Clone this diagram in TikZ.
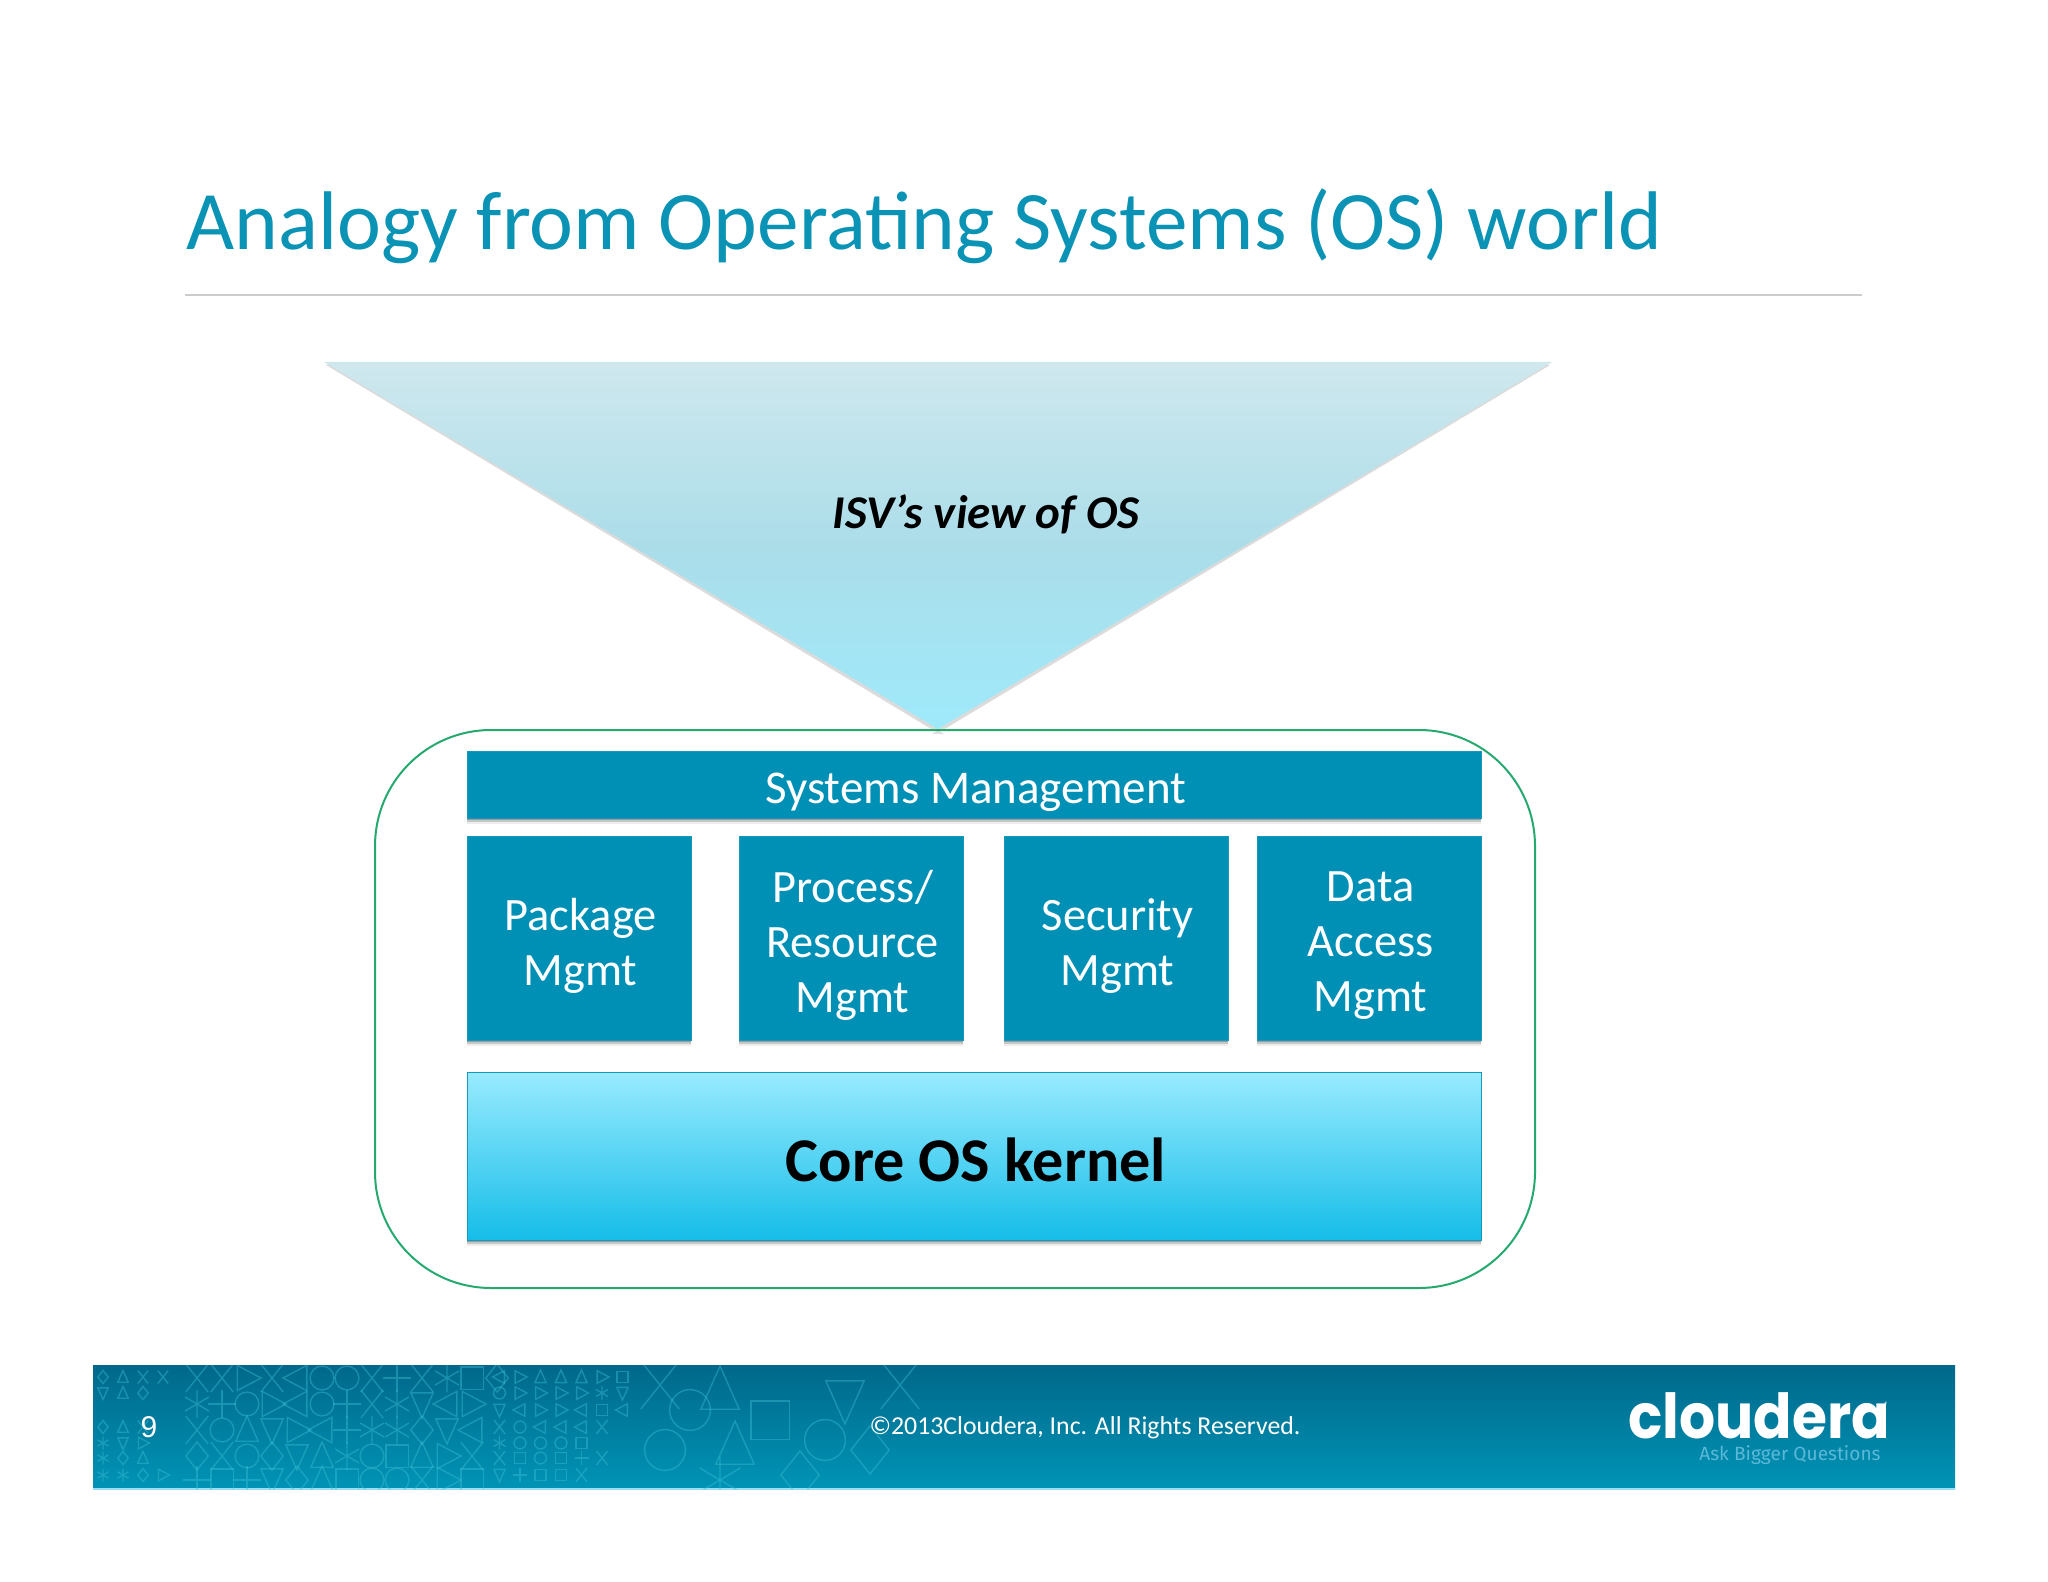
\documentclass[tikz,border=0pt]{standalone}
\usepackage{fontspec}
\setmainfont{Carlito}
\newfontfamily\logofont{Poppins}[FakeStretch=.915]
\newfontfamily\tagfont{Fira Sans}
\newfontfamily\arialfont{Liberation Sans}
\usetikzlibrary{shadows}
\definecolor{titleblue}{HTML}{0A93B5}
\definecolor{boxblue}{HTML}{0090B5}
\definecolor{boxedge}{HTML}{1598BA}
\definecolor{ringgreen}{HTML}{25A96F}
\definecolor{footdark}{HTML}{00688A}
\definecolor{footlight}{HTML}{0094B6}
\definecolor{glyphcol}{HTML}{3CC0D6}
\definecolor{funtop}{HTML}{CFE8EE}
\definecolor{funmid}{HTML}{ABDDE9}
\definecolor{funbot}{HTML}{9EEAFB}
\definecolor{coretop}{HTML}{99EBFF}
\definecolor{corebot}{HTML}{15BDE8}
\definecolor{tagcol}{HTML}{5CB8D8}
\tikzset{
  softshadow/.style={
    general shadow={shadow xshift=0pt,shadow yshift=-1pt,fill=black,opacity=.22},
    general shadow={shadow xshift=0pt,shadow yshift=-2.2pt,fill=black,opacity=.16},
    general shadow={shadow xshift=0pt,shadow yshift=-3.2pt,fill=black,opacity=.07}},
  boxtext/.style={text=white,align=center,inner sep=0pt,xshift=.8pt,yshift=-3.8pt,
    font=\fontsize{23.2}{27.5}\selectfont},
  bluebox/.style={draw=boxedge,line width=.5pt,fill=boxblue,inner sep=0pt,outer sep=0pt,softshadow},
  module/.style={bluebox,minimum width=112pt,minimum height=102pt},
  pics/gtri/.style={code={\draw (0,-1)--(-.8,.8)--(.8,.8)--cycle;}},
  pics/gtrid/.style={code={\draw (0,1)--(-.8,-.8)--(.8,-.8)--cycle;}},
  pics/gtrir/.style={code={\draw (1,0)--(-.7,-.9)--(-.7,.9)--cycle;}},
  pics/gtril/.style={code={\draw (-1,0)--(.7,-.9)--(.7,.9)--cycle;}},
  pics/gcirc/.style={code={\draw (0,0) circle (.85);}},
  pics/gsq/.style={code={\draw (-.8,-.8) rectangle (.8,.8);}},
  pics/gdiam/.style={code={\draw (0,-1)--(.8,0)--(0,1)--(-.8,0)--cycle;}},
  pics/gplus/.style={code={\draw (0,-1)--(0,1) (-1,0)--(1,0);}},
  pics/gx/.style={code={\draw (-.8,-1)--(.8,1) (-.8,1)--(.8,-1);}},
  pics/gstar/.style={code={\draw (0,-1)--(0,1) (-.85,-.5)--(.85,.5) (-.85,.5)--(.85,-.5);}},
  gl/.style={draw=glyphcol,line width=.7pt,draw opacity=.42}
}
\begin{document}
\begin{tikzpicture}[x=.5pt,y=-.5pt]
\useasboundingbox (0,0) rectangle (2048,1582);
\fill[white] (0,0) rectangle (2048,1582);

% title
\node[anchor=base west,inner sep=0pt,text=titleblue,font=\fontsize{41.6}{48}\selectfont] (title) at (186,250) {Analogy from Operating Systems (OS) world};
\coordinate (ruleL) at (185,295);
\coordinate (ruleR) at (1862,295);
\draw[black!20,line width=.6pt] (ruleL) -- (ruleR);

% funnel
\fill[black,opacity=.14] (326,365) -- (1550,365) -- (938,733) -- cycle;
\shade[top color=funtop,bottom color=funbot,middle color=funmid] (324,362) -- (1552,362) -- (938,729) -- cycle;
\node[font=\fontsize{23.5}{28}\bfseries\itshape\selectfont,text=black] (isv) at (986,514) {ISV’s view of OS};

% outer frame
\draw[ringgreen,line width=1pt,rounded corners=58pt,fill=white] (375,730) rectangle (1535,1288);
\fill[black,opacity=.12] (938,730) -- (932,734) -- (944,734) -- cycle;

% boxes
\node[bluebox,minimum width=507pt,minimum height=33.5pt,label={[boxtext,font=\fontsize{23.5}{28}\selectfont]center:Systems Management}] (sysm) at (974,784.5) {};
\node[module,label={[boxtext]center:Package\\Mgmt}] (pkg) at (579,938) {};
\node[module,label={[boxtext]center:Process/\\Resource\\Mgmt}] (proc) at (851,938) {};
\node[module,label={[boxtext]center:Security\\Mgmt}] (sec) at (1116,938) {};
\node[module,label={[boxtext]center:Data\\Access\\Mgmt}] (data) at (1369,938) {};
\node[draw=boxedge,line width=.5pt,top color=coretop,bottom color=corebot,minimum width=507pt,minimum height=84pt,inner sep=0pt,outer sep=0pt,softshadow,label={[text=black,inner sep=0pt,xshift=1pt,yshift=-2pt,font=\fontsize{31.1}{36}\bfseries\selectfont]center:Core OS kernel}] (core) at (974,1156) {};

% footer
\shade[top color=footdark,bottom color=footlight] (93,1365) rectangle (1955,1489);
\draw[cyan!40!white,line width=.8pt] (93,1489) -- (1955,1489);
\begin{scope}
\clip (93,1365) rectangle (1200,1489);
\foreach \ry/\rowlist in {
  1377/{gtril,gtrir,gtri,gtri,gtri,gtrir,gsq},
  1393/{gcirc,gtrir,gtrir,gtrir,gtrir,gstar,gtrid},
  1410/{gtrid,gtril,gtrir,gtrir,gtril,gsq,gtril},
  1427/{gx,gcirc,gtril,gtril,gtril,gx},
  1443/{gstar,gcirc,gcirc,gcirc,gsq},
  1458/{gx,gsq,gcirc,gsq,gplus,gx},
  1475/{gtrid,gplus,gsq,gsq,gx}}{
  \foreach \gt [count=\i] in \rowlist
    \pic[scale=7,gl] at ({479+20.5*\i},\ry) {\gt};
}
\foreach \ry/\rowlist in {
  1377/{gdiam,gtri,gx,gx},
  1393/{gtrid,gtri,gdiam},
  1427/{gdiam,gtri,gx},
  1443/{gstar,gtrid,gtrir},
  1458/{gstar,gdiam,gtri},
  1475/{gstar,gstar,gdiam,gtrir}}{
  \foreach \gt [count=\i] in \rowlist
    \pic[scale=6.5,gl] at ({83+20*\i},\ry) {\gt};
}
\foreach \ry/\rowlist in {
  1378/{gx,gx,gtrir,gx,gtril,gcirc,gcirc,gx,gplus,gx,gstar,gsq,gdiam},
  1404/{gstar,gplus,gcirc,gtrir,gtril,gcirc,gplus,gx,gstar,gtrid,gtril,gtrir},
  1430/{gx,gcirc,gtri,gtrid,gtrir,gtril,gplus,gstar,gstar,gdiam,gtrid,gtril},
  1456/{gdiam,gx,gcirc,gdiam,gtrid,gtri,gstar,gcirc,gsq,gtri,gtrir,gx},
  1480/{gplus,gsq,gplus,gtrid,gdiam,gtri,gsq,gcirc,gcirc,gx,gtrir,gsq}}{
  \foreach \gt [count=\i] in \rowlist
    \pic[scale=14,gl] at ({172+25*\i},\ry) {\gt};
}
\foreach \px/\py/\gt in {660/1385/gx,690/1410/gcirc,665/1450/gcirc,720/1390/gtri,735/1445/gtri,770/1420/gsq,800/1475/gdiam,720/1480/gstar,
  845/1400/gtrid,870/1450/gdiam,900/1385/gx,825/1440/gcirc}
  \pic[scale=24,gl] at (\px,\py) {\gt};
\end{scope}
\node[text=white,font=\arialfont\fontsize{15}{18}\selectfont] (pageno) at (149,1427) {9};
\node[text=white,font=\fontsize{12.9}{15}\selectfont] (copy) at (1085,1428) {©2013Cloudera, Inc. All Rights Reserved.};
\node[text=white,anchor=base west,inner sep=0pt,text depth=0pt,font=\logofont\fontsize{31}{36}\bfseries\selectfont] (logo) at (1628,1438) {cloudera};
\node[text=white,anchor=west,inner sep=0pt,font=\fontsize{4}{5}\selectfont] (reg) at (1884,1405) {®};
\node[text=tagcol,anchor=base east,inner sep=0pt,font=\tagfont\fontsize{9.55}{11}\selectfont] (tag) at (1881,1460) {Ask Bigger Questions};
\end{tikzpicture}
\end{document}
